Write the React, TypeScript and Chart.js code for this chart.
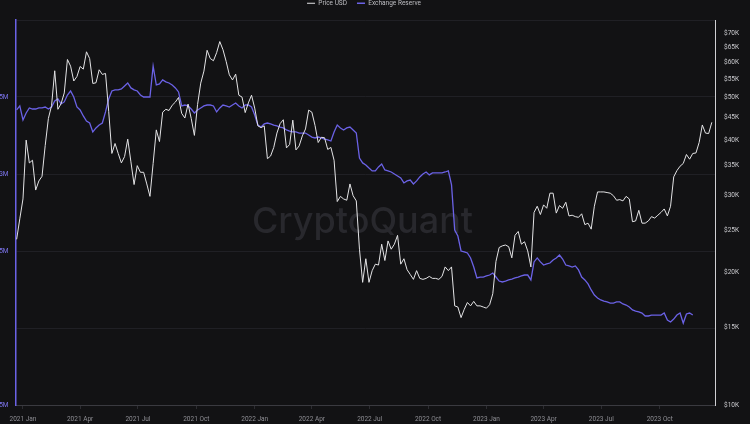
import React, { useEffect, useRef } from 'react';
import { Chart, registerables } from 'chart.js';

Chart.register(...registerables);

// ---- data ----
const firstDate = '2020-12-22';
const stepDays = 5;
const axisStartDate = '2020-12-21';
const axisEndDate = '2023-12-27';

const quarterStarts = [
  '2021-01-01', '2021-04-01', '2021-07-01', '2021-10-01',
  '2022-01-01', '2022-04-01', '2022-07-01', '2022-10-01',
  '2023-01-01', '2023-04-01', '2023-07-01', '2023-10-01',
];
const quarterLabels = [
  '2021 Jan', '2021 Apr', '2021 Jul', '2021 Oct',
  '2022 Jan', '2022 Apr', '2022 Jul', '2022 Oct',
  '2023 Jan', '2023 Apr', '2023 Jul', '2023 Oct',
];

// Price USD, thousands of dollars, one value every 5 days from 2020-12-22
const priceUSDk = [
  23.8, 26.5, 29.4, 40.0, 35.5, 36.0, 30.8, 32.3, 33.1, 38.9,
  44.8, 47.9, 57.5, 47.0, 48.4, 51.2, 61.0, 58.9, 54.5, 55.8,
  58.8, 58.0, 63.5, 61.3, 53.8, 54.0, 57.8, 56.4, 56.7, 46.5,
  37.3, 39.3, 37.3, 35.5, 36.7, 40.2, 35.7, 31.7, 35.0, 33.8,
  33.8, 31.8, 29.8, 35.4, 42.2, 39.7, 46.3, 47.0, 46.7, 48.0,
  48.8, 50.0, 46.0, 44.9, 48.3, 44.8, 41.0, 48.2, 53.9, 57.4,
  64.0, 61.3, 60.6, 63.2, 67.0, 64.2, 60.4, 56.3, 54.8, 56.5,
  50.6, 50.1, 46.2, 48.6, 50.6, 47.3, 43.1, 42.7, 43.1, 36.3,
  36.8, 38.5, 41.5, 43.6, 44.5, 38.4, 39.1, 44.4, 38.0, 38.8,
  40.9, 42.4, 46.8, 46.3, 43.2, 39.5, 40.6, 40.5, 38.1, 38.5,
  36.0, 29.0, 29.8, 29.4, 29.2, 31.8, 29.9, 29.1, 22.6, 19.0,
  21.5, 19.0, 20.2, 20.9, 20.8, 23.2, 21.3, 23.6, 22.6, 23.2,
  24.3, 20.9, 21.5, 20.3, 19.8, 19.3, 20.2, 19.4, 19.3, 19.4,
  19.6, 19.4, 19.4, 19.3, 19.6, 20.6, 20.2, 20.6, 16.8, 16.7,
  15.8, 16.5, 17.1, 16.8, 17.2, 16.8, 16.8, 16.7, 16.6, 16.9,
  17.9, 21.2, 22.8, 23.0, 23.1, 22.9, 21.6, 24.3, 24.8, 23.2,
  23.5, 22.4, 20.6, 27.4, 28.3, 27.1, 28.5, 28.0, 30.3, 30.3,
  27.3, 28.4, 28.0, 28.9, 26.9, 27.0, 26.8, 26.7, 27.2, 25.7,
  25.9, 25.1, 28.3, 30.5, 30.5, 30.5, 30.4, 30.3, 29.9, 29.2,
  29.3, 29.1, 29.8, 29.4, 26.1, 26.2, 27.7, 25.9, 25.9, 26.2,
  26.8, 26.6, 27.0, 27.4, 27.9, 26.9, 28.3, 33.0, 34.1, 34.9,
  35.4, 37.1, 36.2, 37.3, 37.4, 39.5, 43.3, 41.5, 41.4, 43.9,
];

// Exchange Reserve, millions, one value every 5 days from 2020-12-22
const exchangeReserveM = [
  3.416, 3.442, 3.351, 3.396, 3.429, 3.422, 3.422, 3.429, 3.429, 3.435,
  3.422, 3.435, 3.474, 3.487, 3.455, 3.468, 3.513, 3.539, 3.500, 3.435,
  3.416, 3.377, 3.344, 3.331, 3.273, 3.299, 3.318, 3.331, 3.403, 3.487,
  3.539, 3.546, 3.546, 3.552, 3.572, 3.591, 3.559, 3.546, 3.539, 3.513,
  3.500, 3.500, 3.500, 3.701, 3.578, 3.585, 3.611, 3.598, 3.591, 3.578,
  3.559, 3.533, 3.442, 3.448, 3.442, 3.422, 3.396, 3.416, 3.429, 3.442,
  3.448, 3.448, 3.442, 3.403, 3.429, 3.448, 3.442, 3.435, 3.448, 3.461,
  3.442, 3.429, 3.448, 3.448, 3.435, 3.383, 3.318, 3.305, 3.325, 3.331,
  3.325, 3.318, 3.312, 3.305, 3.299, 3.286, 3.279, 3.273, 3.273, 3.266,
  3.266, 3.266, 3.253, 3.240, 3.234, 3.240, 3.234, 3.227, 3.221, 3.214,
  3.273, 3.318, 3.299, 3.286, 3.299, 3.305, 3.286, 3.266, 3.104, 3.072,
  3.059, 3.039, 3.020, 3.020, 3.046, 3.065, 3.026, 3.020, 3.013, 3.000,
  2.987, 2.974, 2.942, 2.955, 2.961, 2.935, 2.955, 2.981, 3.000, 3.013,
  2.994, 3.007, 3.007, 3.007, 3.007, 3.013, 3.020, 2.929, 2.636, 2.597,
  2.500, 2.494, 2.487, 2.455, 2.396, 2.325, 2.331, 2.331, 2.338, 2.344,
  2.357, 2.331, 2.305, 2.299, 2.305, 2.312, 2.318, 2.325, 2.331, 2.338,
  2.344, 2.344, 2.312, 2.429, 2.455, 2.429, 2.409, 2.416, 2.422, 2.442,
  2.455, 2.474, 2.448, 2.409, 2.403, 2.396, 2.403, 2.377, 2.331, 2.312,
  2.286, 2.247, 2.214, 2.195, 2.182, 2.175, 2.169, 2.162, 2.162, 2.169,
  2.169, 2.156, 2.149, 2.136, 2.117, 2.110, 2.104, 2.097, 2.078, 2.078,
  2.084, 2.084, 2.084, 2.084, 2.097, 2.052, 2.039, 2.058, 2.084, 2.097,
  2.032, 2.091, 2.097, 2.084,
];

const priceTicksK = [10, 15, 20, 25, 30, 35, 40, 45, 50, 55, 60, 65, 70];
const reserveLabeledTicks = [1.5, 2.5, 3, 3.5];

// ---- helpers ----
const DAY = 86400000;
const epoch = Date.parse('2021-01-01T00:00:00Z');
const dayIndex = (iso: string) => Math.round((Date.parse(iso + 'T00:00:00Z') - epoch) / DAY);

const FONT = 'Roboto';

const watermarkPlugin = {
  id: 'cqWatermark',
  beforeDatasetsDraw(chart: any) {
    const { ctx, chartArea } = chart;
    ctx.save();
    ctx.font = '500 36px Inter';
    ctx.fillStyle = '#28282d';
    ctx.textAlign = 'center';
    ctx.textBaseline = 'alphabetic';
    ctx.fillText('CryptoQuant', (chartArea.left + chartArea.right) / 2 - 3, (chartArea.top + chartArea.bottom) / 2 + 20);
    ctx.restore();
  },
};

export default function App() {
  const canvasRef = useRef<HTMLCanvasElement | null>(null);

  useEffect(() => {
    const start = dayIndex(firstDate);
    const pricePts = priceUSDk.map((v, i) => ({ x: start + i * stepDays, y: v }));
    const reservePts = exchangeReserveM.map((v, i) => ({ x: start + i * stepDays, y: v }));
    const qDays = quarterStarts.map(dayIndex);

    const chart = new Chart(canvasRef.current as HTMLCanvasElement, {
      type: 'line',
      data: {
        datasets: [
          {
            label: 'Price USD',
            data: pricePts,
            yAxisID: 'yPrice',
            borderColor: '#e4e4e6',
            borderWidth: 1,
            pointRadius: 0,
            tension: 0,
          },
          {
            label: 'Exchange Reserve',
            data: reservePts,
            yAxisID: 'yReserve',
            borderColor: '#6b62e6',
            borderWidth: 1.3,
            pointRadius: 0,
            tension: 0,
          },
        ],
      },
      plugins: [watermarkPlugin],
      options: {
        animation: false,
        responsive: false,
        devicePixelRatio: 1,
        parsing: false as any,
        layout: { padding: { top: 0, right: 10, bottom: 0, left: 0 } },
        plugins: {
          tooltip: { enabled: false },
          legend: {
            position: 'top',
            labels: {
              usePointStyle: true,
              pointStyle: 'line',
              pointStyleWidth: 8,
              padding: 10,
              color: '#bdbdc2',
              font: { family: FONT, size: 6.5 },
            },
          },
        },
        scales: {
          x: {
            type: 'linear',
            position: 'bottom',
            min: dayIndex(axisStartDate),
            max: dayIndex(axisEndDate),
            afterBuildTicks: (axis: any) => {
              axis.ticks = qDays.map((d) => ({ value: d }));
            },
            afterFit: (s: any) => {
              s.height = 19;
            },
            ticks: {
              autoSkip: false,
              maxRotation: 0,
              padding: 6,
              color: '#8e8e94',
              font: { family: FONT, size: 6.5 },
              callback: (v: any) => {
                const k = qDays.indexOf(Number(v));
                return k >= 0 ? quarterLabels[k] : '';
              },
            },
            grid: {
              drawOnChartArea: false,
              drawTicks: true,
              tickLength: 4,
              color: '#2c2c31',
            },
            border: { color: '#3a3a40', width: 1 },
          },
          xTop: {
            type: 'linear',
            position: 'top',
            display: true,
            grid: { display: false, drawTicks: false },
            border: { display: false },
            ticks: { display: false },
            afterFit: (s: any) => {
              s.height = 3.5;
            },
          },
          yReserve: {
            type: 'linear',
            position: 'left',
            min: 1.5,
            max: 4,
            afterFit: (s: any) => {
              s.width = 28;
            },
            ticks: {
              stepSize: 0.5,
              padding: 7.5,
              color: '#7d75ee',
              font: { family: FONT, size: 6.5 },
              callback: (v: any) => (reserveLabeledTicks.includes(Number(v)) ? `${v}M` : ''),
            },
            grid: { color: '#202025', drawTicks: false },
            border: { color: '#6b62e6', width: 1.5 },
          },
          yPrice: {
            type: 'logarithmic',
            position: 'right',
            min: 10,
            max: 75,
            afterBuildTicks: (axis: any) => {
              axis.ticks = priceTicksK.map((v) => ({ value: v }));
            },
            afterFit: (s: any) => {
              s.width = 25;
            },
            ticks: {
              padding: 9,
              color: '#c9c9cd',
              font: { family: FONT, size: 6.5 },
              callback: (v: any) => `$${v}K`,
            },
            grid: { display: false, drawTicks: false },
            border: { color: '#cfcfd3', width: 1 },
          },
        },
      } as any,
    });

    return () => chart.destroy();
  }, []);

  return (
    <div
      style={{
        position: 'fixed',
        left: 0,
        top: 0,
        width: 750,
        height: 424,
        overflow: 'hidden',
        background: '#121214',
      }}
    >
      <canvas
        ref={canvasRef}
        width={762}
        height={434}
        style={{ position: 'absolute', left: -12, top: -10, width: 762, height: 434 }}
      />
    </div>
  );
}
